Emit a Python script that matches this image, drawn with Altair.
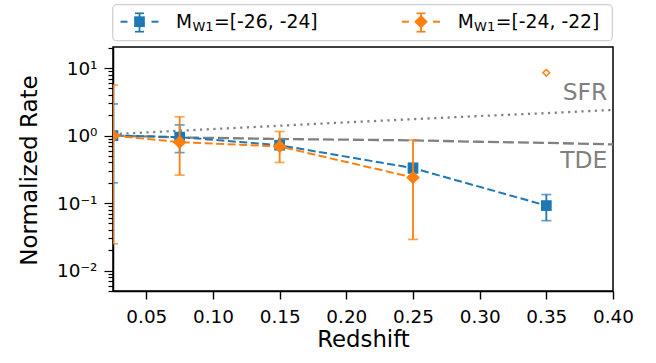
import altair as alt
import pandas as pd

# ---------------- data ----------------
blue_z = [0.025, 0.075, 0.15, 0.25, 0.35]
blue_rate = [1.0, 0.95, 0.72, 0.33, 0.092]
blue_lo = [0.20, 0.56, 0.63, 0.28, 0.055]
blue_hi = [2.94, 1.44, 0.82, 0.39, 0.134]

orange_z = [0.025, 0.075, 0.15, 0.25]
orange_rate = [1.0, 0.80, 0.69, 0.24]
orange_lo = [0.025, 0.26, 0.40, 0.029]
orange_hi = [5.6, 1.9, 1.15, 0.86]

orange_open_z = [0.35]
orange_open_rate = [8.5]

sfr_z = [0.025, 0.075, 0.10, 0.15, 0.20, 0.25, 0.30, 0.35, 0.40]
sfr_rate = [1.05, 1.18, 1.25, 1.40, 1.57, 1.75, 1.95, 2.15, 2.40]
tde_z = [0.025, 0.075, 0.15, 0.20, 0.25, 0.30, 0.35, 0.40]
tde_rate = [1.0, 0.94, 0.89, 0.87, 0.85, 0.81, 0.78, 0.74]

annot_label = ["SFR", "TDE"]
annot_z = [0.3957, 0.3957]
annot_rate = [3.37, 0.333]

x_ticks = [0.05, 0.10, 0.15, 0.20, 0.25, 0.30, 0.35, 0.40]
y_major = [0.01, 0.1, 1, 10]
y_minor = [0.005, 0.006, 0.007, 0.008, 0.009,
           0.02, 0.03, 0.04, 0.05, 0.06, 0.07, 0.08, 0.09,
           0.2, 0.3, 0.4, 0.5, 0.6, 0.7, 0.8, 0.9,
           2, 3, 4, 5, 6, 7, 8, 9, 20]

legend_labels = ["=[-26, -24]", "=[-24, -22]"]

BLUE = "#1f77b4"
ORANGE = "#ff7f0e"
GRAY = "#808080"
FONT = "DejaVu Sans"

# ---------------- tables ----------------
blue_df = pd.DataFrame({"z": blue_z, "rate": blue_rate, "lo": blue_lo, "hi": blue_hi})
orange_df = pd.DataFrame({"z": orange_z, "rate": orange_rate, "lo": orange_lo, "hi": orange_hi})
open_df = pd.DataFrame({"z": orange_open_z, "rate": orange_open_rate})
sfr_df = pd.DataFrame({"z": sfr_z, "rate": sfr_rate})
tde_df = pd.DataFrame({"z": tde_z, "rate": tde_rate})
annot_df = pd.DataFrame({"z": annot_z, "rate": annot_rate, "label": annot_label})
one = pd.DataFrame({"a": [0]})

# ---------------- scales & axes ----------------
xscale = alt.Scale(domain=[0.025, 0.40], nice=False, zero=False)
yscale = alt.Scale(type="log", domain=[0.005, 20.5], nice=False)

major_test = "abs(log(datum.value)/LN10 - round(log(datum.value)/LN10)) < 0.001"
xaxis = alt.Axis(values=x_ticks, format=".2f", title="Redshift", grid=False,
                 labelFlush=False, labelOverlap=False,
                 tickSize=8, tickWidth=1.4, tickColor="black",
                 domainColor="black", domainWidth=1.5,
                 labelFont=FONT, labelFontSize=18.4, labelColor="black", labelPadding=8,
                 titleFont=FONT, titleFontSize=22.8, titleFontWeight="normal",
                 titleColor="black", titleBaseline="alphabetic", titleY=55)
yaxis = alt.Axis(values=y_major + y_minor, title="Normalized Rate", grid=False,
                 labelExpr=("round(log(datum.value)/LN10) == 1 && " + major_test + " ? '10\u00b9' : "
                            "round(log(datum.value)/LN10) == 0 && " + major_test + " ? '10\u2070' : "
                            "round(log(datum.value)/LN10) == -1 && " + major_test + " ? '10\u207b\u00b9' : "
                            "round(log(datum.value)/LN10) == -2 && " + major_test + " ? '10\u207b\u00b2' : ''"),
                 labelFlush=False, labelOverlap=False,
                 tickSize={"condition": {"test": major_test, "value": 9}, "value": 5},
                 tickWidth=1.2, tickColor="black",
                 domainColor="black", domainWidth=1.5,
                 labelFont=FONT, labelFontSize=18.4, labelColor="black", labelPadding=7,
                 titleFont=FONT, titleFontSize=23, titleFontWeight="normal",
                 titleColor="black", titleAngle=270, titleBaseline="alphabetic",
                 titleAlign="center", titleX=-77, titleY=123)


def X(field="z"):
    return alt.X(f"{field}:Q", scale=xscale, axis=xaxis)


def Y(field="rate"):
    return alt.Y(f"{field}:Q", scale=yscale, axis=yaxis)


# ---------------- model lines ----------------
sfr_line = alt.Chart(sfr_df).mark_line(color=GRAY, strokeWidth=2.3, strokeDash=[2.2, 4.5],
                                       clip=True).encode(x=X(), y=Y())
tde_line = alt.Chart(tde_df).mark_line(color=GRAY, strokeWidth=2.3, strokeDash=[11, 4],
                                       clip=True).encode(x=X(), y=Y())


def series(df, color, shape, size):
    bars = alt.Chart(df).mark_rule(color=color, strokeWidth=1.8, clip=True).encode(
        x=X(), y=Y("lo"), y2="hi:Q")
    caps = alt.Chart(df).transform_fold(["lo", "hi"], as_=["end", "v"]).mark_tick(
        orient="horizontal", color=color, size=10, thickness=1.7, clip=True).encode(
        x=X(), y=Y("v"))
    line = alt.Chart(df).mark_line(color=color, strokeWidth=2, strokeDash=[8, 3.5],
                                   clip=True).encode(x=X(), y=Y())
    pts = alt.Chart(df).mark_point(shape=shape, filled=True, color=color, opacity=1,
                                   size=size, clip=True).encode(x=X(), y=Y())
    return [bars, caps, line, pts]


blue_layers = series(blue_df, BLUE, "square", 115)
orange_layers = series(orange_df, ORANGE, "diamond", 185)

open_pt = alt.Chart(open_df).mark_point(shape="diamond", filled=True, fill="white",
                                         stroke=ORANGE, strokeWidth=1.5, opacity=1,
                                         size=45, clip=True).encode(x=X(), y=Y())

annot = alt.Chart(annot_df).mark_text(font=FONT, fontSize=23.4, color=GRAY, align="right",
                                       baseline="alphabetic").encode(x=X(), y=Y(), text="label:N")

# ---------------- legend (above the plot) ----------------
legend_box = alt.Chart(one).mark_rect(fill="white", stroke="#d0d0d0", strokeWidth=1.3,
                                      cornerRadius=4).encode(
    x=alt.value(-0.3), x2=alt.value(499.3), y=alt.value(-42.3), y2=alt.value(-6.3))


def legend_entry(cx, color, shape, size, text_x, label):
    parts = []
    parts.append(alt.Chart(one).mark_rule(color=color, strokeWidth=2).encode(
        x=alt.value(cx - 19), x2=alt.value(cx - 12), y=alt.value(-25.3)))
    parts.append(alt.Chart(one).mark_rule(color=color, strokeWidth=2).encode(
        x=alt.value(cx + 12), x2=alt.value(cx + 19), y=alt.value(-25.3)))
    parts.append(alt.Chart(one).mark_rule(color=color, strokeWidth=1.8).encode(
        x=alt.value(cx), y=alt.value(-33.7), y2=alt.value(-15.3)))
    for yy in (-33.7, -15.3):
        parts.append(alt.Chart(one).mark_rule(color=color, strokeWidth=1.7).encode(
            x=alt.value(cx - 4.5), x2=alt.value(cx + 4.5), y=alt.value(yy)))
    parts.append(alt.Chart(one).mark_point(shape=shape, filled=True, color=color, opacity=1,
                                           size=size).encode(x=alt.value(cx), y=alt.value(-25.3)))
    parts.append(alt.Chart(one).mark_text(text="M", font=FONT, fontSize=18.6, color="black",
                                          align="left", baseline="alphabetic").encode(
        x=alt.value(text_x), y=alt.value(-18.7)))
    parts.append(alt.Chart(one).mark_text(text="W1", font=FONT, fontSize=13, color="black",
                                          align="left", baseline="alphabetic").encode(
        x=alt.value(text_x + 16.4), y=alt.value(-16)))
    parts.append(alt.Chart(one).mark_text(text=label, font=FONT, fontSize=18.8, color="black",
                                          align="left", baseline="alphabetic").encode(
        x=alt.value(text_x + 38), y=alt.value(-18.7)))
    return parts


legend_layers = [legend_box]
legend_layers += legend_entry(26.5, BLUE, "square", 115, 63, legend_labels[0])
legend_layers += legend_entry(308, ORANGE, "diamond", 185, 344.7, legend_labels[1])

chart = alt.layer(
    sfr_line, tde_line, *blue_layers, *orange_layers, open_pt, annot, *legend_layers
).properties(
    width=500, height=244,
    autosize=alt.AutoSizeParams(type="none"),
    padding={"left": 113, "top": 47, "right": 43, "bottom": 72},
    background="white",
).configure_view(stroke="black", strokeWidth=1.5)

chart.save("out.html", embed_options={"renderer": "svg", "actions": False})
